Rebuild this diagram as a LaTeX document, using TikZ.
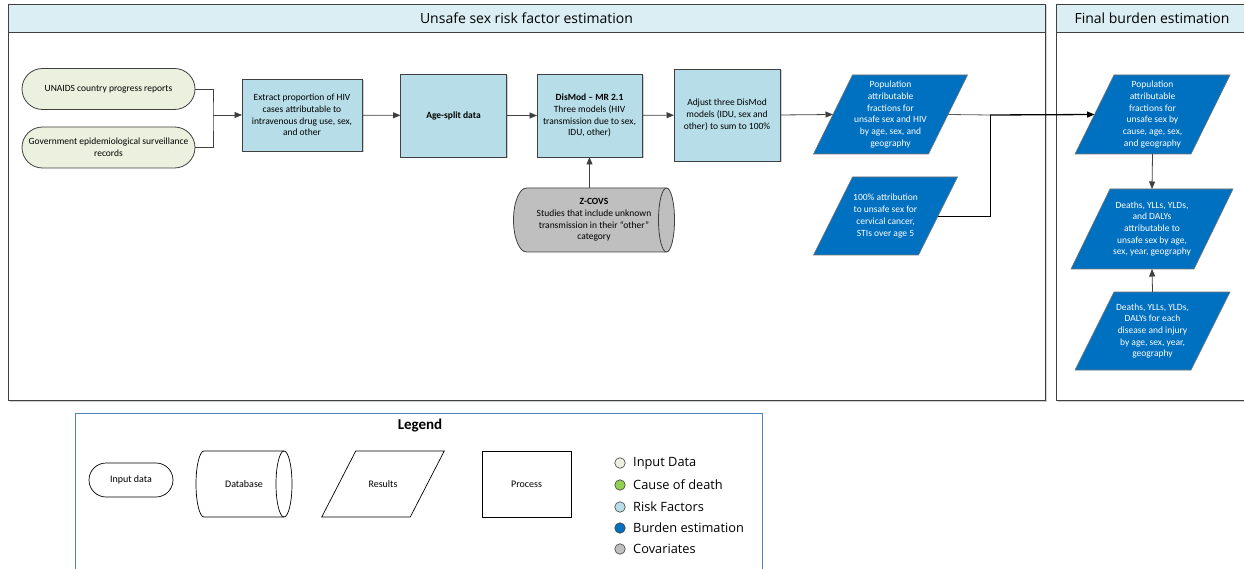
\documentclass[tikz,border=0pt]{standalone}
\usepackage{fontspec}
\setmainfont{Carlito}
\newfontfamily\segoe{Open Sans}
\usetikzlibrary{arrows.meta,shapes.geometric,shapes.misc,backgrounds,shadows}

\definecolor{inputc}{HTML}{EBF1DE}
\definecolor{causec}{HTML}{92D050}
\definecolor{riskc}{HTML}{B7DEE8}
\definecolor{burdenc}{HTML}{0070C0}
\definecolor{covc}{HTML}{BFBFBF}
\definecolor{headc}{HTML}{DAEEF3}
\definecolor{edgec}{HTML}{404040}
\definecolor{legendc}{HTML}{4F81BD}

\tikzset{
  softshadow/.style={drop shadow={shadow xshift=1.5pt, shadow yshift=-1.5pt, fill=black!18, opacity=1}},
  basetext/.style={font=\fontsize{9.5}{11.7}\selectfont, align=center, inner sep=2pt, outer sep=0pt},
  inputdata/.style={basetext, rounded rectangle, draw=edgec, line width=0.8pt, fill=inputc,
    minimum width=177pt, minimum height=41pt},
  riskbox/.style={basetext, rectangle, draw=edgec, line width=0.8pt, fill=riskc, softshadow},
  resultbox/.style={basetext, rectangle, text=white, minimum height=79pt},
  burdenfill/.style={fill=burdenc, draw=black!55, line width=0.6pt},
  covdb/.style={basetext, rectangle, minimum width=161pt, minimum height=64pt},
  connector/.style={draw=edgec, line width=0.8pt},
  panel/.style={draw=edgec, line width=0.9pt, fill=white, softshadow},
  headtext/.style={font=\segoe\fontsize{14}{16}\selectfont, inner sep=0pt},
  legshape/.style={basetext, font=\fontsize{10}{12}\selectfont, draw=black, line width=0.7pt, fill=white, minimum height=66pt},
  legdot/.style={circle, draw=edgec, line width=0.6pt, minimum size=10.5pt, inner sep=0pt},
  legtext/.style={font=\segoe\fontsize{12.8}{14}\selectfont, anchor=west, inner sep=0pt}
}

\begin{document}
\begin{tikzpicture}[x=1pt, y=-1pt, >={Triangle[length=7.5pt,width=6pt]}]
\useasboundingbox (0,0) rectangle (1244,569);

% swimlanes
\begin{pgfonlayer}{background}
  \draw[panel] (8,4) rectangle (1045,400);
  \draw[draw=edgec, line width=0.9pt, fill=headc] (8,4) rectangle (1045,32);
  \draw[panel] (1056,4) rectangle (1252,400);
  \draw[draw=edgec, line width=0.9pt, fill=headc] (1056,4) rectangle (1252,32);
\end{pgfonlayer}
\node[headtext] (lefthead) at (526.5,18) {Unsafe sex risk factor estimation};
\node[headtext] (righthead) at (1152,18) {Final burden estimation};

% inputs
\node[inputdata] (unaids) at (108.5,89) {UNAIDS country progress reports};
\node[inputdata] (gov) at (108.5,147.5) {Government epidemiological surveillance\\records};

% risk factor processing
\node[riskbox, minimum width=120pt, minimum height=72pt] (extract) at (302,115)
  {Extract proportion of HIV\\cases attributable to\\intravenous drug use, sex,\\and other};
\node[riskbox, minimum width=106pt, minimum height=83pt] (agesplit) at (453.5,115.5)
  {\textbf{Age-split data}};
\node[riskbox, minimum width=105pt, minimum height=83pt] (dismod) at (589.5,115.5)
  {\textbf{DisMod -- MR 2.1}\\Three models (HIV\\transmission due to sex,\\IDU, other)};
\node[riskbox, minimum width=106pt, minimum height=92pt] (adjust) at (727,115)
  {Adjust three DisMod\\models (IDU, sex and\\other) to sum to 100\%};
\node[covdb] (zcovs) at (594,220)
  {\textbf{Z-COVS}\\Studies that include unknown\\transmission in their “other”\\category};
\begin{pgfonlayer}{background}
  \draw[draw=edgec, line width=0.8pt, fill=covc]
    ([xshift=13pt]zcovs.north west) -- ([xshift=-8pt]zcovs.north east)
    arc[start angle=90, end angle=-90, x radius=8pt, y radius=32pt]
    -- ([xshift=13pt]zcovs.south west)
    arc[start angle=270, end angle=90, x radius=13pt, y radius=32pt] -- cycle;
  \draw[draw=edgec, line width=0.8pt] ([xshift=-8pt]zcovs.north east)
    arc[start angle=90, end angle=270, x radius=8pt, y radius=32pt];
\end{pgfonlayer}

% results
\node[resultbox, minimum width=115pt] (paf) at (890.5,114.5)
  {Population\\attributable\\fractions for\\unsafe sex and HIV\\by age, sex, and\\geography};
\node[resultbox, minimum width=105pt, minimum height=78pt] (attrib) at (885.5,216)
  {100\% attribution\\to unsafe sex for\\cervical cancer,\\STIs over age 5};
\node[resultbox, minimum width=116pt] (pafc) at (1152.5,114.5)
  {Population\\attributable\\fractions for\\unsafe sex by\\cause, age, sex,\\and geography};
\node[resultbox, minimum width=123pt, minimum height=80pt] (dalyattr) at (1152,229)
  {Deaths, YLLs, YLDs,\\and DALYs\\attributable to\\unsafe sex by age,\\sex, year, geography};
\node[resultbox, minimum width=116pt, minimum height=78pt] (dalyall) at (1152.5,331)
  {Deaths, YLLs, YLDs,\\DALYs for each\\disease and injury\\by age, sex, year,\\geography};

\begin{pgfonlayer}{background}
  \foreach \n in {paf,attrib,pafc,dalyattr,dalyall}
    \draw[burdenfill] ([xshift=19.5pt]\n.north west) -- ([xshift=19.5pt]\n.north east)
      -- ([xshift=-19.5pt]\n.south east) -- ([xshift=-19.5pt]\n.south west) -- cycle;
\end{pgfonlayer}

% connectors
\coordinate (join) at (213,115);
\coordinate (merge) at (990,115);
\draw[connector] (unaids.east) -| (join) |- (gov.east);
\draw[connector,->] (join) -- (extract.west);
\draw[connector,->] (extract) -- (agesplit);
\draw[connector,->] (agesplit) -- (dismod);
\draw[connector,->] (dismod) -- (adjust);
\draw[connector,->] (adjust.east) -- (paf.west);
\draw[connector,->] (zcovs.north -| dismod.south) -- (dismod.south);
\draw[connector, draw=black!65] (paf.east) -- (merge);
\draw[connector, draw=black] (attrib.east) -| (merge);
\draw[draw=black, line width=1.3pt, ->] (merge) -- (pafc.west);
\draw[connector,->] (pafc.south) -- (dalyattr.north);
\draw[connector,->] (dalyall.north) -- (dalyattr.south);

% legend
\draw[legendc, line width=0.9pt] (75,575) -- (75,413) -- (762,413) -- (762,575);
\node[font=\bfseries\fontsize{15}{17}\selectfont] (legtitle) at (420,426) {Legend};
\node[legshape, rounded rectangle, minimum width=88pt, minimum height=34pt] (legin) at (131,480) {Input data};
\node[basetext, font=\fontsize{10}{12}\selectfont, minimum width=96pt, minimum height=66pt] (legdb) at (244,484) {Database};
\node[basetext, font=\fontsize{10}{12}\selectfont, minimum width=88.5pt, minimum height=66pt] (legres) at (383,484) {Results};
\node[legshape, minimum width=89pt] (legproc) at (526.5,484) {Process};
\begin{pgfonlayer}{background}
  \draw[black, line width=0.7pt, fill=white] ([xshift=17pt]legres.north west) -- ([xshift=17pt]legres.north east)
    -- ([xshift=-17pt]legres.south east) -- ([xshift=-17pt]legres.south west) -- cycle;
  \draw[black, line width=0.7pt, fill=white]
    ([xshift=8pt]legdb.north west) -- ([xshift=-8pt]legdb.north east)
    arc[start angle=90, end angle=-90, x radius=8pt, y radius=33pt]
    -- ([xshift=8pt]legdb.south west)
    arc[start angle=270, end angle=90, x radius=8pt, y radius=33pt] -- cycle;
  \draw[black, line width=0.7pt] ([xshift=-8pt]legdb.north east)
    arc[start angle=90, end angle=270, x radius=8pt, y radius=33pt];
\end{pgfonlayer}
\node[legdot, fill=inputc] (kinput) at (620,463) {};
\node[legdot, fill=causec] (kcause) at (620,485) {};
\node[legdot, fill=riskc] (krisk) at (620,507) {};
\node[legdot, fill=burdenc] (kburden) at (620,528) {};
\node[legdot, fill=covc] (kcov) at (620,549) {};
\node[legtext] at (633,463) {Input Data};
\node[legtext] at (633,485) {Cause of death};
\node[legtext] at (633,507) {Risk Factors};
\node[legtext] at (633,528) {Burden estimation};
\node[legtext] at (633,549) {Covariates};
\end{tikzpicture}
\end{document}
